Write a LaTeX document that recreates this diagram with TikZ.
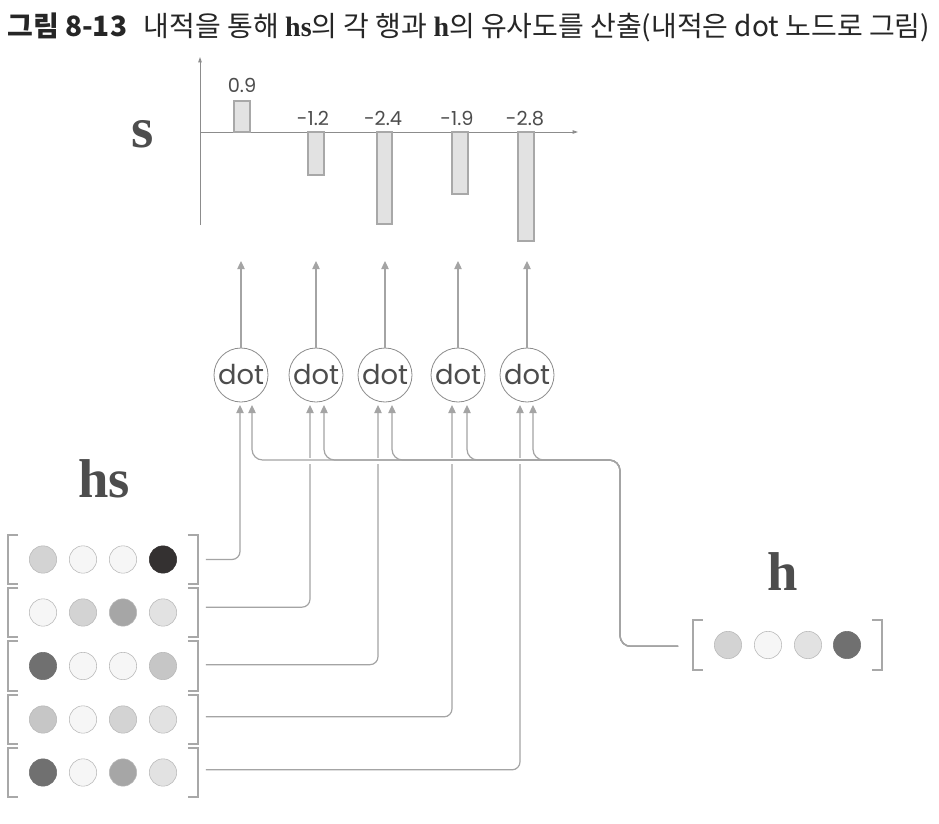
\documentclass[tikz,border=0pt]{standalone}
\usepackage{fontspec}
\setmainfont{Liberation Serif}
\newfontfamily\kr{Noto Sans CJK KR}
\newfontfamily\pop{Poppins}
\usetikzlibrary{arrows.meta,calc}
\definecolor{linec}{HTML}{A4A4A4}
\definecolor{axisc}{HTML}{8C8C8C}
\definecolor{barfill}{HTML}{E2E2E2}
\definecolor{barline}{HTML}{A8A8A8}
\definecolor{labc}{HTML}{4D4D4D}
\definecolor{g1}{HTML}{F6F6F6}
\definecolor{g2}{HTML}{E2E2E2}
\definecolor{g3}{HTML}{D3D3D3}
\definecolor{g4}{HTML}{C6C6C6}
\definecolor{g5}{HTML}{A6A6A6}
\definecolor{g6}{HTML}{707070}
\definecolor{g7}{HTML}{343131}
\tikzset{
  conn/.style={draw=linec, line width=0.9pt, rounded corners=6pt},
  arr/.style={conn, -{Triangle[length=6pt,width=5.5pt]}},
  axisline/.style={draw=axisc, line width=0.6pt, -{Triangle[length=4pt,width=2.6pt]}},
  bar/.style={fill=barfill, draw=barline, line width=0.8pt},
  dotn/.style={circle, draw=axisc, line width=0.6pt, minimum size=40.5pt, inner sep=0pt,
    font=\pop\fontsize{20.5}{20.5}\selectfont, text=labc},
  val/.style={anchor=base, inner sep=0pt, font=\pop\fontsize{14.5}{14.5}\selectfont, text=labc},
  bigl/.style={anchor=base, inner sep=0pt, font=\bfseries\fontsize{41}{41}\selectfont, text=labc},
  rowbox/.style={minimum width=141.75pt, minimum height=36.75pt, inner sep=0pt},
  brk/.style={draw=barline, line width=1.4pt},
  cell/.style={circle, draw=g5!80, line width=0.4pt, minimum size=20.5pt, inner sep=0pt},
}
\newcommand{\brackets}[1]{%
  \draw[brk] ([xshift=7.5pt]#1.north west) -- (#1.north west) -- (#1.south west) -- ([xshift=7.5pt]#1.south west);
  \draw[brk] ([xshift=-7.5pt]#1.north east) -- (#1.north east) -- (#1.south east) -- ([xshift=-7.5pt]#1.south east);}
\begin{document}
\begin{tikzpicture}[x=0.75pt,y=-0.75pt]
\useasboundingbox[fill=white] (0,0) rectangle (939,824);
% title
\node[anchor=west, inner sep=0pt, text=black!85] (title) at (7,27)
  {\kr\fontsize{21}{24}\selectfont\textbf{그림 8-13}\hspace{0.6em}내적을 통해 {\rmfamily\bfseries hs}의 각 행과 {\rmfamily\bfseries h}의 유사도를 산출(내적은 dot 노드로 그림)};
% chart
\node[bigl, font=\bfseries\fontsize{43}{43}\selectfont] (slab) at (143,147) {s};
\draw[axisline] (200,225) -- (200,57);
\draw[axisline] (200,132) -- (578,132);
\draw[bar] (234,101) rectangle (250,132);
\draw[bar] (308,132) rectangle (324,175);
\draw[bar] (377,132) rectangle (392,224);
\draw[bar] (452,132) rectangle (468,194);
\draw[bar] (518,132) rectangle (534,241);
\node[val] (v1) at (242,93) {0.9};
\node[val] (v2) at (313,126) {-1.2};
\node[val] (v3) at (383,126) {-2.4};
\node[val] (v4) at (457,126) {-1.9};
\node[val] (v5) at (525,126) {-2.8};
% dot nodes
\node[dotn] (d1) at (241,375) {dot};
\node[dotn] (d2) at (316,375) {dot};
\node[dotn] (d3) at (385,375) {dot};
\node[dotn] (d4) at (458,375) {dot};
\node[dotn] (d5) at (527,375) {dot};
\foreach \i/\x in {1/241,2/316,3/385,4/458,5/527}{
  \coordinate (t\i) at (\x,261);
  \draw[arr] (d\i) -- (t\i);
}
% arrow end points
\coordinate (a1) at (240,405); \coordinate (b1) at (252,405);
\coordinate (a2) at (310,405); \coordinate (b2) at (324,405);
\coordinate (a3) at (378,405); \coordinate (b3) at (392,405);
\coordinate (a4) at (452,405); \coordinate (b4) at (467,405);
\coordinate (a5) at (520,405); \coordinate (b5) at (533,405);
% hs
\node[bigl] (hslab) at (104,497) {hs};
\node[rowbox] (r1) at (103,559.5) {};
\node[rowbox] (r2) at (103,612.5) {};
\node[rowbox] (r3) at (103,666) {};
\node[rowbox] (r4) at (103,719.5) {};
\node[rowbox] (r5) at (103,772.5) {};
\foreach \r in {1,...,5}{\brackets{r\r}}
\foreach \c/\x in {1/43,2/83,3/123,4/163}{
  \path (\x,0) coordinate (cx\c);
}
\node[cell, fill=g3] (c11) at (cx1 |- r1) {};
\node[cell, fill=g1] (c12) at (cx2 |- r1) {};
\node[cell, fill=g1] (c13) at (cx3 |- r1) {};
\node[cell, fill=g7, draw=g7] (c14) at (cx4 |- r1) {};
\node[cell, fill=g1] (c21) at (cx1 |- r2) {};
\node[cell, fill=g3] (c22) at (cx2 |- r2) {};
\node[cell, fill=g5] (c23) at (cx3 |- r2) {};
\node[cell, fill=g2] (c24) at (cx4 |- r2) {};
\node[cell, fill=g6, draw=g6] (c31) at (cx1 |- r3) {};
\node[cell, fill=g1] (c32) at (cx2 |- r3) {};
\node[cell, fill=g1] (c33) at (cx3 |- r3) {};
\node[cell, fill=g4] (c34) at (cx4 |- r3) {};
\node[cell, fill=g4] (c41) at (cx1 |- r4) {};
\node[cell, fill=g1] (c42) at (cx2 |- r4) {};
\node[cell, fill=g3] (c43) at (cx3 |- r4) {};
\node[cell, fill=g2] (c44) at (cx4 |- r4) {};
\node[cell, fill=g6, draw=g6] (c51) at (cx1 |- r5) {};
\node[cell, fill=g1] (c52) at (cx2 |- r5) {};
\node[cell, fill=g5] (c53) at (cx3 |- r5) {};
\node[cell, fill=g2] (c54) at (cx4 |- r5) {};
% hs connectors
\draw[arr] ([xshift=6pt]r1.east) -| (a1);
\draw[arr] ([xshift=6pt,yshift=4pt]r2.east) -| (a2);
\draw[arr] ([xshift=6pt,yshift=1pt]r3.east) -| (a3);
\draw[arr] ([xshift=6pt,yshift=2pt]r4.east) -| (a4);
\draw[arr] ([xshift=6pt,yshift=2pt]r5.east) -| (a5);
% gap
\draw[white, line width=5pt] (300,461) -- (540,461);
% h
\node[bigl] (hlab) at (783,590) {h};
\node[rowbox] (hv) at (787.5,645) {};
\brackets{hv}
\node[cell, fill=g3] (h1) at (728,645) {};
\node[cell, fill=g1] (h2) at (768,645) {};
\node[cell, fill=g2] (h3) at (808,645) {};
\node[cell, fill=g6, draw=g6] (h4) at (847,645) {};
\foreach \i in {5,4,3,2,1}{
  \draw[arr, rounded corners=8pt] ([xshift=-11pt,yshift=-1pt]hv.west) -| (620,460) -| (b\i);
}
\end{tikzpicture}
\end{document}
